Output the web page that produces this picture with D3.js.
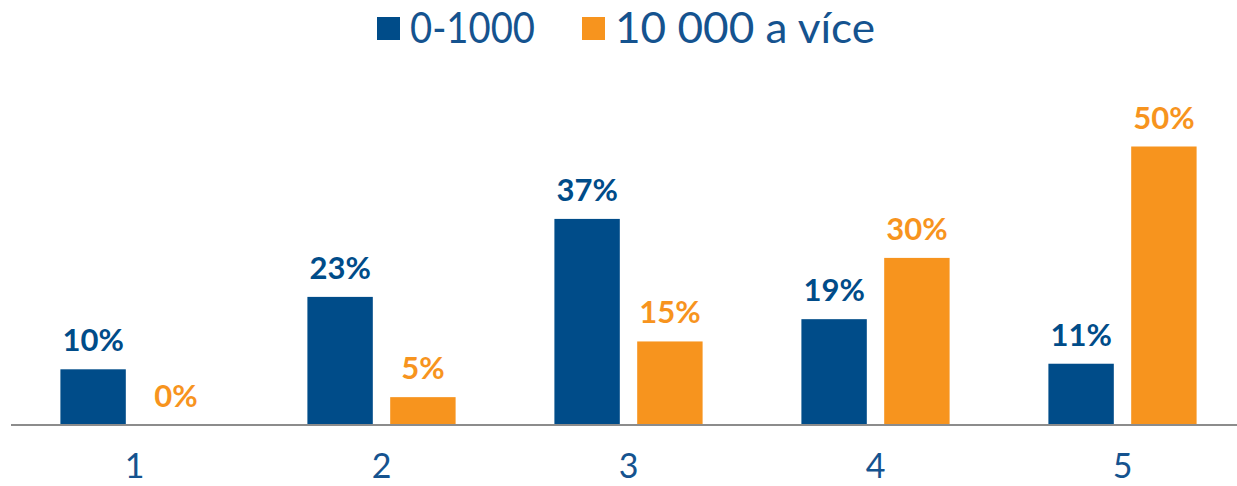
<!DOCTYPE html>
<html>
<head>
<meta charset="utf-8">
<script src="https://cdn.jsdelivr.net/npm/d3@7"></script>
<style>
  body { margin: 0; background: #fff; }
  svg text { font-family: Lato, "Open Sans", sans-serif; }
</style>
</head>
<body>
<div id="chart"></div>
<script>
// Data
const categories = ["1", "2", "3", "4", "5"];
const seriesNames = ["0-1000", "10 000 a více"];
const smallValues = [10, 23, 37, 19, 11];
const largeValues = [0, 5, 15, 30, 50];

const colors = ["#004C89", "#F7941E"];
const textBlue = "#15538F";

const W = 1237, H = 486;
const baseY = 425;

const svg = d3.select("#chart")
  .append("svg")
  .attr("width", W)
  .attr("height", H);

const rows = categories.map((c, i) => ({ cat: c, values: [smallValues[i], largeValues[i]] }));

// Scales
const x0 = d3.scaleBand()
  .domain(categories)
  .range([11, 1246])
  .paddingInner(0.4)
  .paddingOuter(0.2);

const x1 = d3.scaleBand()
  .domain(d3.range(seriesNames.length))
  .range([0, x0.bandwidth()])
  .paddingInner(0.21);

const y = d3.scaleLinear()
  .domain([0, 50])
  .range([baseY, 146.5]);

// Bars + labels
const groups = svg.selectAll(".group")
  .data(rows)
  .enter()
  .append("g")
  .attr("class", "group")
  .attr("transform", (d) => `translate(${x0(d.cat)},0)`);

groups.selectAll("rect")
  .data((d) => d.values.map((v, i) => ({ v, i })))
  .enter()
  .append("rect")
  .attr("x", (d) => x1(d.i))
  .attr("y", (d) => y(d.v))
  .attr("width", x1.bandwidth())
  .attr("height", (d) => baseY - y(d.v))
  .attr("fill", (d) => colors[d.i]);

groups.selectAll(".val")
  .data((d) => d.values.map((v, i) => ({ v, i })))
  .enter()
  .append("text")
  .attr("class", "val")
  .attr("x", (d) => x1(d.i) + x1.bandwidth() / 2)
  .attr("y", (d) => y(d.v) - 18)
  .attr("text-anchor", "middle")
  .attr("font-size", 31)
  .attr("font-weight", "bold")
  .attr("fill", (d) => colors[d.i])
  .text((d) => d.v + "%");

// Axis line
svg.append("line")
  .attr("x1", 11)
  .attr("x2", W)
  .attr("y1", baseY)
  .attr("y2", baseY)
  .attr("stroke", "#8C8C8C")
  .attr("stroke-width", 2);

// Category labels
const xAxis = d3.axisBottom(x0).tickSize(0).tickPadding(0);
const gx = svg.append("g")
  .attr("transform", `translate(0,${baseY})`)
  .call(xAxis);
gx.select(".domain").remove();
gx.selectAll("text")
  .attr("dy", null)
  .attr("y", 53)
  .attr("font-size", 34)
  .attr("font-family", "Lato, sans-serif")
  .attr("fill", textBlue);

// Legend
const legendItems = [
  { name: seriesNames[0], color: colors[0], x: 377, len: 125 },
  { name: seriesNames[1], color: colors[1], x: 582, len: 260 }
];
const legend = svg.selectAll(".legend")
  .data(legendItems)
  .enter()
  .append("g")
  .attr("class", "legend")
  .attr("transform", (d) => `translate(${d.x},0)`);

legend.append("rect")
  .attr("x", 0)
  .attr("y", 17)
  .attr("width", 23)
  .attr("height", 23)
  .attr("fill", (d) => d.color);

legend.append("text")
  .attr("x", 33)
  .attr("y", 43)
  .attr("font-size", 42)
  .attr("fill", textBlue)
  .attr("textLength", (d) => d.len)
  .attr("lengthAdjust", "spacingAndGlyphs")
  .text((d) => d.name);
</script>
</body>
</html>
